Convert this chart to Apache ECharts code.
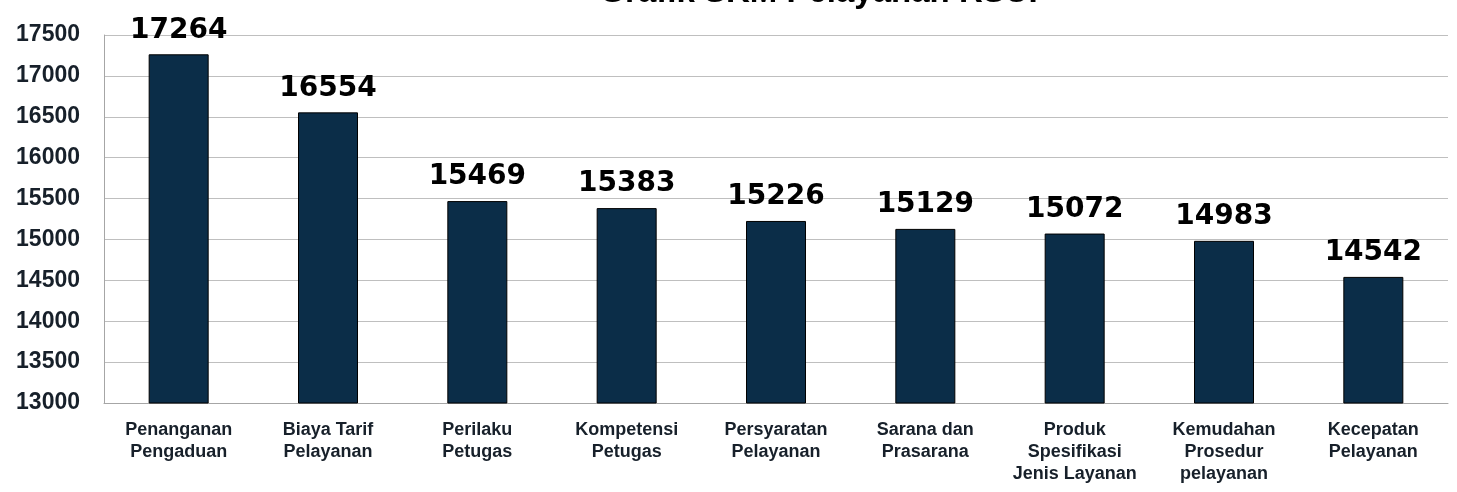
<!DOCTYPE html>
<html>
<head>
<meta charset="utf-8">
<script src="https://cdn.jsdelivr.net/npm/echarts@6/dist/echarts.min.js"></script>
<style>
  html, body { margin: 0; padding: 0; background: #fff; }
  #chart { width: 1457px; height: 492px; }
</style>
</head>
<body>
<div id="chart"></div>
<script>
// data
const categories = [
  'Penanganan\nPengaduan',
  'Biaya Tarif\nPelayanan',
  'Perilaku\nPetugas',
  'Kompetensi\nPetugas',
  'Persyaratan\nPelayanan',
  'Sarana dan\nPrasarana',
  'Produk\nSpesifikasi\nJenis Layanan',
  'Kemudahan\nProsedur\npelayanan',
  'Kecepatan\nPelayanan',
];
const values = [17264, 16554, 15469, 15383, 15226, 15129, 15072, 14983, 14542];
const titleText = 'Grafik SKM Pelayanan RSUP';

const chart = echarts.init(document.getElementById('chart'));

const option = {
  animation: false,
  title: {
    text: titleText,
    left: 820,
    textAlign: 'center',
    top: -29,
    textStyle: {
      fontFamily: 'Liberation Sans',
      fontWeight: 'bold',
      fontSize: 33,
      color: '#000',
    },
  },
  grid: {
    left: 104,
    right: 9,
    top: 35,
    bottom: 89,
  },
  xAxis: {
    type: 'category',
    data: categories,
    axisLine: { lineStyle: { color: '#a6a6a6', width: 1 } },
    axisTick: { show: false },
    axisLabel: {
      interval: 0,
      margin: 16,
      fontFamily: 'Liberation Sans',
      fontWeight: 'bold',
      fontSize: 18,
      lineHeight: 22,
      color: '#17202a',
    },
  },
  yAxis: {
    type: 'value',
    min: 13000,
    max: 17500,
    interval: 500,
    axisLine: { show: true, lineStyle: { color: '#a6a6a6' } },
    axisTick: { show: false },
    splitLine: { lineStyle: { color: '#bfbfbf', width: 1 } },
    axisLabel: {
      margin: 24,
      formatter: (v) => String(v),
      fontFamily: 'Liberation Sans',
      fontWeight: 'bold',
      fontSize: 23,
      color: '#17202a',
    },
  },
  series: [
    {
      type: 'bar',
      data: values,
      barWidth: 60,
      itemStyle: {
        color: '#0b2d48',
        borderColor: '#000',
        borderWidth: 1,
      },
      label: {
        show: true,
        position: 'top',
        distance: 10,
        fontFamily: 'DejaVu Sans',
        fontWeight: 'bold',
        fontSize: 28,
        color: '#000',
      },
    },
  ],
};

chart.setOption(option);
</script>
</body>
</html>
